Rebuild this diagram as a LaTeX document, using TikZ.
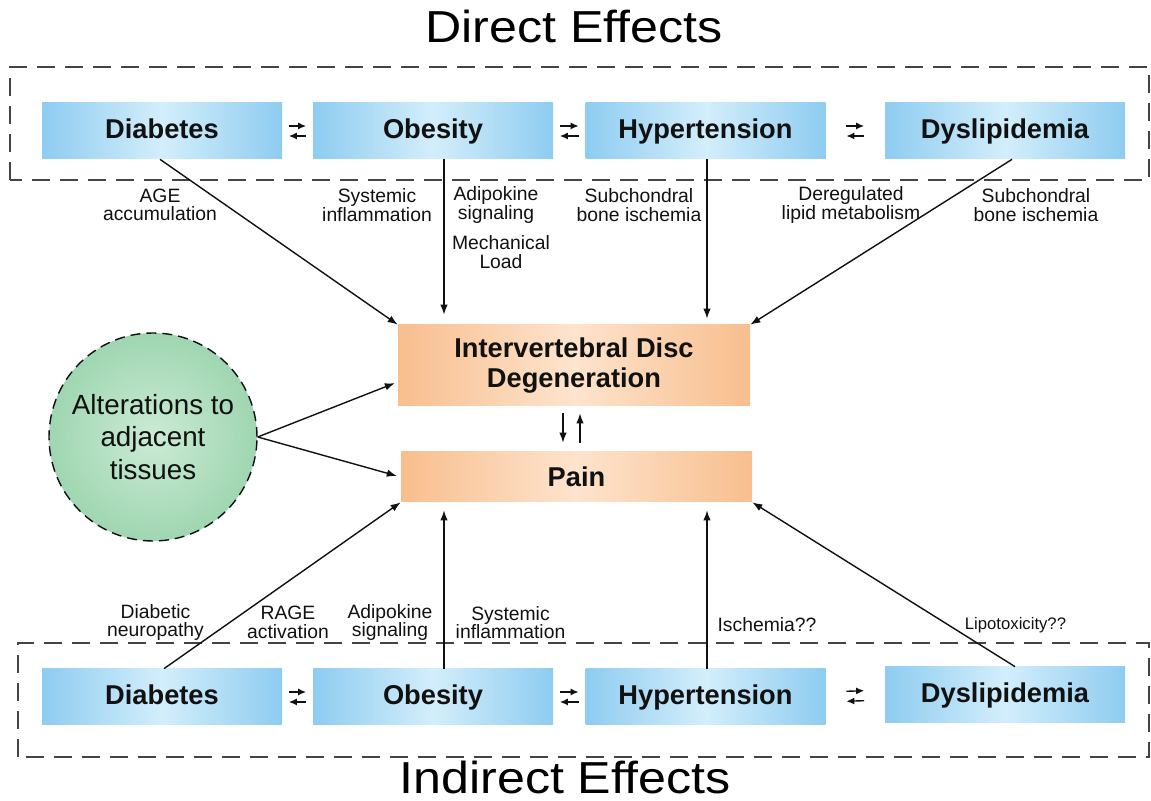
\documentclass[tikz,border=0pt]{standalone}
\usepackage{fontspec}
\setmainfont{Liberation Sans}
\usetikzlibrary{positioning,arrows.meta,calc}
\definecolor{riskBlue}{HTML}{8ECCF0}
\definecolor{riskLight}{HTML}{D3EEFB}
\definecolor{outOrange}{HTML}{F8BE8E}
\definecolor{outLight}{HTML}{FDE4CD}
\definecolor{tissueGreen}{HTML}{9FD6B1}
\definecolor{tissueLight}{HTML}{CBEBD5}
\definecolor{textDark}{HTML}{111111}
\definecolor{dashGray}{HTML}{444444}

\begin{document}
\begin{tikzpicture}[
  >=Latex,
  link/.style={-{Latex[length=2.0mm,width=1.5mm]}, line width=0.8pt, draw=textDark},
  trade/.style={-{Latex[length=1.6mm,width=1.4mm]}, line width=0.8pt, draw=textDark,
    shorten <=#1, shorten >=#1},
  effectpanel/.style={draw=dashGray, line width=0.9pt, dash pattern=on 0.36cm off 0.2cm},
  riskbox/.style={
    rectangle,
    left color=riskBlue, right color=riskBlue, middle color=riskLight,
    minimum width=4.8cm,
    minimum height=1.12cm,
    text height=11.5pt, text depth=3.5pt,
    align=center,
    font=\fontsize{15.5}{17.6}\selectfont\bfseries,
    text=textDark
  },
  outbox/.style={
    rectangle,
    left color=outOrange, right color=outOrange, middle color=outLight,
    minimum width=7.04cm,
    minimum height=1.0cm,
    align=center,
    font=\fontsize{15.5}{17.6}\selectfont\bfseries,
    text=textDark
  },
  tissue/.style={
    circle,
    draw=textDark,
    line width=0.8pt,
    dash pattern=on 0.2cm off 0.12cm,
    inner color=tissueLight, outer color=tissueGreen,
    minimum size=4.16cm,
    align=center,
    font=\fontsize{15.8}{18.5}\selectfont,
    text=textDark
  },
  note/.style={font=\fontsize{11}{10.5}\selectfont, align=center, text=textDark},
  heading/.style={font=\fontsize{25.5}{28}\selectfont, text=black,
    inner sep=0pt, xscale=1.12, transform shape}
]
  \useasboundingbox (0,0) rectangle (23.02,16.02);

  % Titles
  \node[heading, anchor=base] (direct) at (11.48,15.16) {Direct Effects};
  \node[heading, anchor=base] (indirect) at (11.3,0.15) {Indirect Effects};

  % Direct effects row
  \node[riskbox] (dia1) at (3.24,13.4) {Diabetes};
  \node[riskbox] (ob1) at (8.66,13.4) {Obesity};
  \node[riskbox] (hyp1) at (14.11,13.4) {Hypertension};
  \node[riskbox] (dys1) at (20.1,13.4) {Dyslipidemia};

  % Indirect effects row
  \node[riskbox] (dia2) at (3.24,2.08) {Diabetes};
  \node[riskbox] (ob2) at (8.66,2.08) {Obesity};
  \node[riskbox] (hyp2) at (14.11,2.08) {Hypertension};
  \node[riskbox] (dys2) at (20.1,2.12) {Dyslipidemia};

  % Outcomes
  \node[outbox, minimum height=1.62cm] (ivd) at (11.48,8.71) {Intervertebral Disc\\Degeneration};
  \node[outbox, minimum width=7.02cm] (pain) at (11.53,6.48) {Pain};
  \node[tissue] (alter) at (3.06,7.28) {Alterations to\\adjacent\\tissues};

  % Dashed panels
  \coordinate (dirSW) at (0.2,12.42);
  \coordinate (dirNE) at (22.98,14.68);
  \coordinate (indSW) at (0.36,0.88);
  \coordinate (indNE) at (22.98,3.16);
  \draw[effectpanel] (dirSW) rectangle (dirNE);
  \draw[effectpanel] (indSW) rectangle (indNE);

  % Exchanges between risk factors
  \foreach \a/\b/\s in {dia1/ob1/0.13cm, ob1/hyp1/0.13cm, hyp1/dys1/0.41cm,
                        dia2/ob2/0.13cm, ob2/hyp2/0.13cm, hyp2/dys2/0.41cm} {
    \draw[trade=\s] ([yshift=0.1cm]\a.east) -- ([yshift=0.1cm]\b.west);
    \draw[trade=\s] ([yshift=-0.1cm]\b.west) -- ([yshift=-0.1cm]\a.east);
  }

  % Direct arrows
  \coordinate (obTop) at ([xshift=0.22cm]ob1.south);
  \coordinate (hypTop) at ([xshift=0.03cm]hyp1.south);
  \draw[link] ([xshift=-0.04cm]dia1.south) -- (ivd.north west);
  \draw[link, shorten >=0.2cm] (obTop) -- (obTop |- ivd.north);
  \draw[link, shorten >=0.12cm] (hypTop) -- (hypTop |- ivd.north);
  \draw[link] ([xshift=0.14cm]dys1.south) -- (ivd.north east);

  % Indirect arrows
  \coordinate (obBot) at ([xshift=0.22cm]ob2.north);
  \coordinate (hypBot) at ([xshift=0.03cm]hyp2.north);
  \draw[link] ([xshift=0.04cm]dia2.north) -- (pain.south west);
  \draw[link, shorten >=0.16cm] (obBot) -- (obBot |- pain.south);
  \draw[link, shorten >=0.16cm] (hypBot) -- (hypBot |- pain.south);
  \draw[link] ([xshift=0.2cm]dys2.north) -- (pain.south east);

  % Degeneration and pain
  \draw[link, shorten <=0.14cm, shorten >=0.18cm] ([xshift=-0.22cm]ivd.south) -- ([xshift=-0.22cm]ivd.south |- pain.north);
  \coordinate (upFoot) at ([xshift=0.12cm]ivd.south |- pain.north);
  \draw[link, shorten <=0.18cm, shorten >=0.14cm] (upFoot) -- (upFoot |- ivd.south);
  \draw[link, shorten >=0.06cm] (alter.east) -- ([yshift=-0.33cm]ivd.west);
  \draw[link, shorten >=0.08cm] (alter.east) -- (pain.west);

  % Labels, direct
  \node[note] (lAge) at (3.2,11.92) {AGE\\accumulation};
  \node[note] (lSys1) at (7.54,11.92) {Systemic\\inflammation};
  \node[note] (lAdi1) at (9.92,11.92) {Adipokine\\signaling};
  \node[note] (lMech) at (10.02,10.98) {Mechanical\\Load};
  \node[note] (lSub1) at (12.78,11.92) {Subchondral\\bone ischemia};
  \node[note] (lLip) at (17.02,11.92) {Deregulated\\lipid metabolism};
  \node[note] (lSub2) at (20.72,11.92) {Subchondral\\bone ischemia};

  % Labels, indirect
  \node[note] (lNeu) at (3.11,3.57) {Diabetic\\neuropathy};
  \node[note] (lRage) at (5.76,3.57) {RAGE\\activation};
  \node[note] (lAdi2) at (7.8,3.57) {Adipokine\\signaling};
  \node[note] (lSys2) at (10.21,3.57) {Systemic\\inflammation};
  \node[note] (lIsch) at (15.34,3.52) {Ischemia??};
  \node[note, font=\fontsize{9.5}{10}\selectfont] (lTox) at (20.31,3.52) {Lipotoxicity??};
\end{tikzpicture}
\end{document}
